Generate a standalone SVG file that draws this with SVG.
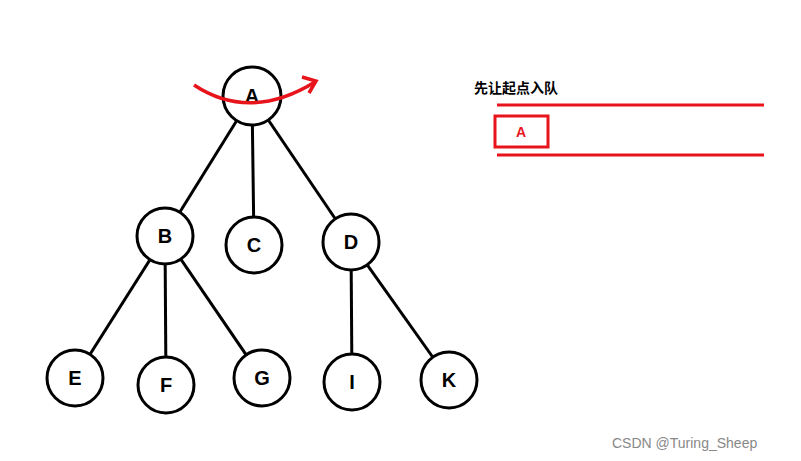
<svg xmlns="http://www.w3.org/2000/svg" width="801" height="461" viewBox="0 0 801 461">
<style>
.n circle{fill:#fff;stroke:#000;stroke-width:3}
.n text{font-family:"Liberation Sans",Arial,sans-serif;font-weight:bold;font-size:20px;text-anchor:middle;fill:#000}
.e line{stroke:#000;stroke-width:3}
.red{stroke:#e8141c;fill:none;stroke-width:3.5}
</style>
<rect width="801" height="461" fill="#fff"/>
<g id="edges" class="e">
<line x1="252" y1="96" x2="165" y2="236"/><line x1="252" y1="96" x2="254" y2="245"/><line x1="252" y1="96" x2="351" y2="242"/>
<line x1="165" y1="236" x2="75" y2="378"/><line x1="165" y1="236" x2="166" y2="385"/><line x1="165" y1="236" x2="262" y2="378"/>
<line x1="351" y1="242" x2="352" y2="382"/><line x1="351" y1="242" x2="449" y2="380"/>
</g>
<g id="A" class="n"><circle cx="252" cy="96" r="29"/><text x="252" y="103">A</text></g>
<g id="B" class="n"><circle cx="165" cy="236" r="28"/><text x="165" y="243">B</text></g>
<g id="C" class="n"><circle cx="254" cy="245" r="28"/><text x="254" y="252">C</text></g>
<g id="D" class="n"><circle cx="351" cy="242" r="28"/><text x="351" y="249">D</text></g>
<g id="E" class="n"><circle cx="75" cy="378" r="28"/><text x="75" y="385">E</text></g>
<g id="F" class="n"><circle cx="166" cy="385" r="28"/><text x="166" y="392">F</text></g>
<g id="G" class="n"><circle cx="262" cy="378" r="28"/><text x="262" y="385">G</text></g>
<g id="I" class="n"><circle cx="352" cy="382" r="28"/><text x="352" y="389">I</text></g>
<g id="K" class="n"><circle cx="449" cy="380" r="28"/><text x="449" y="387">K</text></g>
<g id="arrow" class="red">
<path d="M194,85 Q250,122 315,82"/>
<path d="M302,77 L316,81 L309,93"/>
</g>
<g id="queue">
<text x="474" y="93" font-family="'Noto Sans CJK SC',sans-serif" font-weight="bold" font-size="14">先让起点入队</text>
<line x1="497" y1="105" x2="764" y2="105" class="red" style="stroke-width:3"/>
<line x1="497" y1="155" x2="764" y2="155" class="red" style="stroke-width:3"/>
<rect x="495" y="116" width="53" height="31" class="red" style="stroke-width:3"/>
<text x="521" y="137" text-anchor="middle" font-family="'Liberation Sans',sans-serif" font-weight="bold" font-size="14" fill="#e8141c">A</text>
</g>
<text x="612" y="448" font-family="'Liberation Sans',sans-serif" font-size="14" fill="#888">CSDN @Turing_Sheep</text>
</svg>
